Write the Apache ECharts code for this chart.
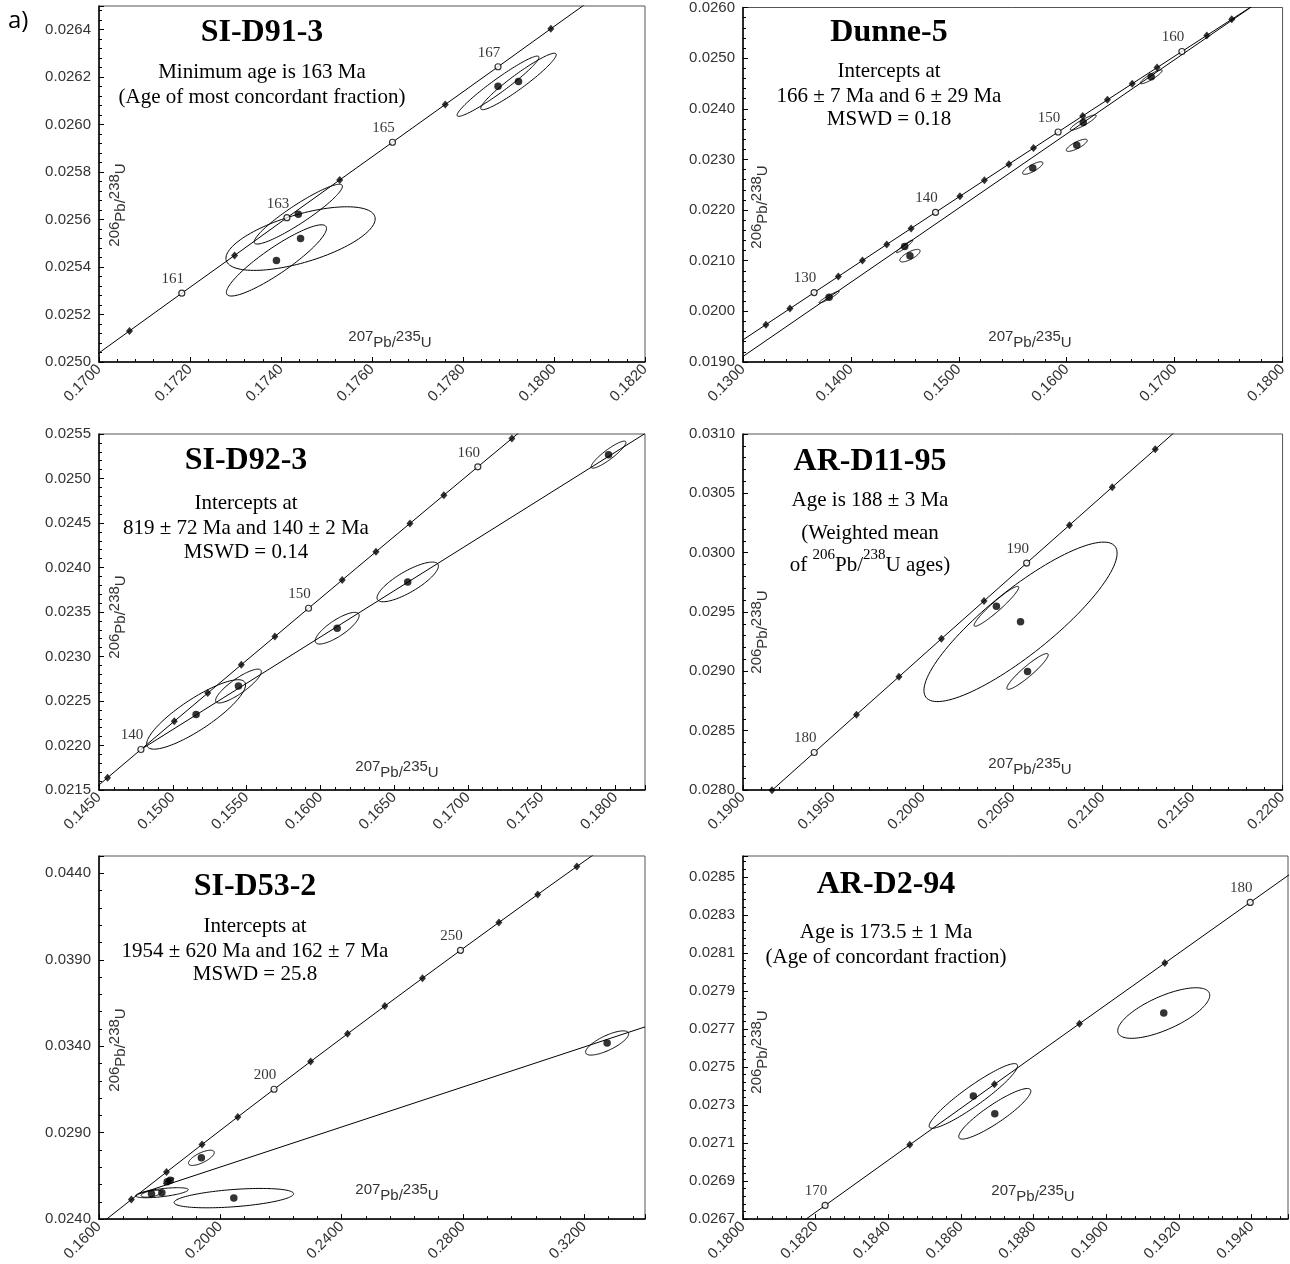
<!DOCTYPE html>
<html>
<head>
<meta charset="utf-8">
<script src="https://cdn.jsdelivr.net/npm/echarts@6/dist/echarts.min.js"></script>
<style>
  html, body { margin: 0; padding: 0; background: #fff; }
  #chart { width: 1290px; height: 1264px; }
</style>
</head>
<body>
<div id="chart"></div>
<script>
// Concordia reference points: [age (Ma), 207Pb/235U, 206Pb/238U]
const sid913Concordia = [
  [159, 0.16952, 0.024972], [160, 0.17067, 0.025131], [161, 0.17182, 0.025290],
  [162, 0.17298, 0.025449], [163, 0.17413, 0.025608], [164, 0.17529, 0.025767],
  [165, 0.17645, 0.025926], [166, 0.17761, 0.026085], [167, 0.17877, 0.026244],
  [168, 0.17993, 0.026404], [169, 0.18109, 0.026563]
];
const dunne5Concordia = [
  [124, 0.12989, 0.019422], [126, 0.13212, 0.019738], [128, 0.13435, 0.020054],
  [130, 0.13659, 0.020371], [132, 0.13883, 0.020688], [134, 0.14107, 0.021004],
  [136, 0.14332, 0.021321], [138, 0.14558, 0.021638], [140, 0.14784, 0.021955],
  [142, 0.15010, 0.022272], [144, 0.15237, 0.022589], [146, 0.15464, 0.022907],
  [148, 0.15692, 0.023224], [150, 0.15920, 0.023542], [152, 0.16148, 0.023859],
  [154, 0.16377, 0.024177], [156, 0.16607, 0.024495], [158, 0.16837, 0.024813],
  [160, 0.17067, 0.025131], [162, 0.17298, 0.025449], [164, 0.17529, 0.025767],
  [166, 0.17761, 0.026085]
];
const sid923Concordia = [
  [136, 0.14332, 0.021321], [138, 0.14558, 0.021638], [140, 0.14784, 0.021955],
  [142, 0.15010, 0.022272], [144, 0.15237, 0.022589], [146, 0.15464, 0.022907],
  [148, 0.15692, 0.023224], [150, 0.15920, 0.023542], [152, 0.16148, 0.023859],
  [154, 0.16377, 0.024177], [156, 0.16607, 0.024495], [158, 0.16837, 0.024813],
  [160, 0.17067, 0.025131], [162, 0.17298, 0.025449], [164, 0.17529, 0.025767]
];
const ard1195Concordia = [
  [176, 0.18926, 0.027678], [178, 0.19161, 0.027997], [180, 0.19396, 0.028316],
  [182, 0.19631, 0.028635], [184, 0.19867, 0.028954], [186, 0.20103, 0.029274],
  [188, 0.20340, 0.029593], [190, 0.20577, 0.029912], [192, 0.20815, 0.030232],
  [194, 0.21053, 0.030552], [196, 0.21292, 0.030871], [198, 0.21531, 0.031191]
];
const sid532Concordia = [
  [150, 0.15920, 0.023542], [160, 0.17067, 0.025131], [170, 0.18226, 0.026722],
  [180, 0.19396, 0.028316], [190, 0.20577, 0.029912], [200, 0.21771, 0.031511],
  [210, 0.22976, 0.033113], [220, 0.24193, 0.034716], [230, 0.25422, 0.036323],
  [240, 0.26664, 0.037932], [250, 0.27917, 0.039543], [260, 0.29183, 0.041157],
  [270, 0.30462, 0.042773], [280, 0.31753, 0.044392], [290, 0.33057, 0.046013]
];
const ard294Concordia = [
  [168, 0.17993, 0.026404], [170, 0.18226, 0.026722], [172, 0.18459, 0.027041],
  [174, 0.18692, 0.027359], [176, 0.18926, 0.027678], [178, 0.19161, 0.027997],
  [180, 0.19396, 0.028316], [182, 0.19631, 0.028635]
];

// Ages written next to the open concordia markers
const sid913Labelled = [161, 163, 165, 167];
const dunne5Labelled = [130, 140, 150, 160];
const sid923Labelled = [140, 150, 160];
const ard1195Labelled = [180, 190];
const sid532Labelled = [200, 250];
const ard294Labelled = [170, 180];

// Analysed fractions: [207Pb/235U, 206Pb/238U, half-width x, half-width y, error correlation]
const sid913Fractions = [
  [0.17438, 0.025623, 0.00097, 0.000126, 0.93],
  [0.17443, 0.025520, 0.00164, 0.000134, 0.62],
  [0.17390, 0.025428, 0.00110, 0.000150, 0.90],
  [0.17877, 0.026162, 0.00090, 0.000127, 0.96],
  [0.17922, 0.026182, 0.00083, 0.000119, 0.95]
];
const dunne5Fractions = [
  [0.13798, 0.020281, 0.00094, 0.000117, 0.95],
  [0.14498, 0.021282, 0.00075, 0.000124, 0.95],
  [0.14547, 0.021100, 0.00094, 0.000124, 0.75],
  [0.15685, 0.022830, 0.00094, 0.000124, 0.80],
  [0.16093, 0.023279, 0.00097, 0.000120, 0.80],
  [0.16153, 0.023728, 0.00120, 0.000150, 0.90],
  [0.16783, 0.024631, 0.00101, 0.000137, 0.90]
];
const sid923Fractions = [
  [0.15158, 0.022349, 0.00335, 0.000390, 0.85],
  [0.15445, 0.022668, 0.00155, 0.000190, 0.85],
  [0.16114, 0.023318, 0.00149, 0.000178, 0.80],
  [0.16592, 0.023838, 0.00208, 0.000223, 0.80],
  [0.17953, 0.025268, 0.00118, 0.000152, 0.90]
];
const ard1195Fractions = [
  [0.20543, 0.029417, 0.00537, 0.000672, 0.86],
  [0.20409, 0.029548, 0.00124, 0.000168, 0.95],
  [0.20582, 0.028999, 0.00115, 0.000151, 0.93]
];
const sid532Fractions = [
  [0.17729, 0.025469, 0.00340, 0.000200, 0.50],
  [0.18072, 0.025528, 0.00870, 0.000290, 0.60],
  [0.18250, 0.026155, 0.00120, 0.000140, 0.80],
  [0.18346, 0.026253, 0.00120, 0.000140, 0.80],
  [0.19375, 0.027546, 0.00425, 0.000440, 0.70],
  [0.20445, 0.025215, 0.01970, 0.000560, 0.45],
  [0.32751, 0.034187, 0.00710, 0.000700, 0.75]
];
const ard294Fractions = [
  [0.18634, 0.027298, 0.001216, 0.000170, 0.93],
  [0.18693, 0.027204, 0.000992, 0.000133, 0.90],
  [0.19158, 0.027734, 0.001266, 0.000133, 0.70]
];

// Discordia chords: two points on each regression line
const dunne5Discordia = [[0.13000, 0.019110], [0.17761, 0.026085]];
const sid923Discordia = [[0.14784, 0.021955], [0.18200, 0.025505]];
const sid532Discordia = [[0.17298, 0.025449], [0.34000, 0.035117]];

// Tick labels of the AR-D2-94 ratio axis
const ard294YLabels = ['0.0267', '0.0269', '0.0271', '0.0273', '0.0275',
                       '0.0277', '0.0279', '0.0281', '0.0283', '0.0285'];

const SERIF = '"Liberation Serif", "Times New Roman", serif';
const SANS = '"Liberation Sans", Arial, sans-serif';

const colL = { left: 99, width: 546 };
const colR = { left: 743, width: 545 };
const rowBox = [
  { top: 6, height: 356 },
  { top: 434, height: 356 },
  { top: 856, height: 371 }
];

const panels = [
  { grid: { ...colL, ...rowBox[0] }, x: [0.170, 0.182, 0.002], y: [0.0250, 0.0265, 0.0002],
    conc: sid913Concordia, lab: sid913Labelled, fr: sid913Fractions, disc: null },
  { grid: { ...colR, ...rowBox[0] }, x: [0.130, 0.180, 0.010], y: [0.0190, 0.0260, 0.0010],
    conc: dunne5Concordia, lab: dunne5Labelled, fr: dunne5Fractions, disc: dunne5Discordia },
  { grid: { ...colL, ...rowBox[1] }, x: [0.145, 0.182, 0.005], y: [0.0215, 0.0255, 0.0005],
    conc: sid923Concordia, lab: sid923Labelled, fr: sid923Fractions, disc: sid923Discordia },
  { grid: { ...colR, ...rowBox[1] }, x: [0.190, 0.220, 0.005], y: [0.0280, 0.0310, 0.0005],
    conc: ard1195Concordia, lab: ard1195Labelled, fr: ard1195Fractions, disc: null },
  { grid: { ...colL, ...rowBox[2] }, x: [0.160, 0.340, 0.040], y: [0.0240, 0.0450, 0.0050],
    conc: sid532Concordia, lab: sid532Labelled, fr: sid532Fractions, disc: sid532Discordia },
  { grid: { ...colR, ...rowBox[2] }, x: [0.180, 0.195, 0.002], y: [0.02665, 0.02856, 0.0002],
    conc: ard294Concordia, lab: ard294Labelled, fr: ard294Fractions, disc: null,
    yLabels: ard294YLabels }
];

const onTick = (v, min, step) => Math.abs((v - min) / step - Math.round((v - min) / step)) < 1e-6;

function axis(kind, range, i, labels) {
  const [min, max, step] = range;
  const base = {
    type: 'value', gridIndex: i, min, max, interval: step, scale: true,
    axisLine: { show: true, onZero: false, lineStyle: { color: '#000', width: 1.5 } },
    axisTick: { show: true, inside: true, length: 5, lineStyle: { color: '#000', width: 1 } },
    minorTick: { show: true, splitNumber: 5, length: 3, lineStyle: { color: '#000', width: 1 } },
    splitLine: { show: false },
    axisLabel: {
      fontFamily: SANS, fontSize: 15, color: '#333', margin: kind === 'x' ? 5 : 8,
      showMaxLabel: onTick(max, min, step),
      formatter: labels
        ? (v) => labels[Math.round((v - min) / step)] || ''
        : (v) => v.toFixed(4)
    }
  };
  if (kind === 'x') base.axisLabel.rotate = 45;
  return base;
}

function ellipse(params, api) {
  const cx = api.value(0), cy = api.value(1), sx = api.value(2), sy = api.value(3), r = api.value(4);
  const q = Math.sqrt(1 - r * r);
  const pts = [];
  const n = 120;
  for (let k = 0; k < n; k++) {
    const t = (k / n) * Math.PI * 2;
    pts.push(api.coord([cx + sx * Math.cos(t), cy + sy * (r * Math.cos(t) + q * Math.sin(t))]));
  }
  return { type: 'polygon', shape: { points: pts }, style: { fill: 'none', stroke: '#000', lineWidth: 1 } };
}

const grids = [], xAxes = [], yAxes = [], series = [];
panels.forEach((p, i) => {
  grids.push({ ...p.grid, show: true, borderColor: '#555', borderWidth: 1, backgroundColor: 'transparent' });
  xAxes.push(axis('x', p.x, i));
  yAxes.push(axis('y', p.y, i, p.yLabels));
  const ax = { xAxisIndex: i, yAxisIndex: i, silent: true, animation: false };

  series.push({ ...ax, type: 'line', data: p.conc.map(c => [c[1], c[2]]), symbol: 'none',
    lineStyle: { color: '#000', width: 1 }, clip: true, z: 2 });
  if (p.disc) {
    series.push({ ...ax, type: 'line', data: p.disc, symbol: 'none',
      lineStyle: { color: '#000', width: 1 }, clip: true, z: 2 });
  }
  series.push({ ...ax, type: 'custom', data: p.fr, renderItem: ellipse, clip: true, z: 3,
    encode: { x: 0, y: 1 } });

  const marks = p.conc.slice(1, -1);
  series.push({ ...ax, type: 'scatter', clip: false, z: 4, symbol: 'diamond', symbolSize: [7, 8],
    itemStyle: { color: '#000' },
    data: marks.filter(c => !p.lab.includes(c[0])).map(c => [c[1], c[2]]) });
  series.push({ ...ax, type: 'scatter', clip: false, z: 4, symbol: 'circle', symbolSize: 6,
    itemStyle: { color: '#fff', borderColor: '#000', borderWidth: 1.2 },
    label: { show: true, position: 'top', distance: 3, offset: [-9, 0],
      formatter: (d) => String(d.value[2]), fontFamily: SERIF, fontSize: 15, color: '#000' },
    data: marks.filter(c => p.lab.includes(c[0])).map(c => [c[1], c[2], c[0]]) });

  series.push({ ...ax, type: 'scatter', clip: true, z: 5, symbol: 'circle', symbolSize: 7.5,
    itemStyle: { color: '#000' }, data: p.fr.map(f => [f[0], f[1]]) });
});

// Text blocks
function title(x, y, text) {
  return { type: 'text', x, y, z: 10, style: { text, fontFamily: SERIF, fontSize: 32, fontWeight: 'bold',
    fill: '#000', align: 'center', verticalAlign: 'middle' } };
}
function note(x, y, text) {
  return { type: 'text', x, y, z: 10, style: { text, fontFamily: SERIF, fontSize: 21,
    fill: '#000', align: 'center', verticalAlign: 'middle' } };
}
const ratioRich = {
  n: { fontFamily: SANS, fontSize: 15, fill: '#333', verticalAlign: 'top' },
  l: { fontFamily: SANS, fontSize: 15, fill: '#333', padding: [6, 0, 0, 0] }
};
function xTitle(x, y) {
  return { type: 'text', x, y, z: 10, style: { text: '{n|207}{l|Pb/}{n|235}{l|U}', rich: ratioRich,
    align: 'center', verticalAlign: 'middle' } };
}
function yTitle(x, y) {
  return { type: 'text', x, y, z: 10, rotation: Math.PI / 2,
    style: { text: '{n|206}{l|Pb/}{n|238}{l|U}', rich: ratioRich, align: 'center', verticalAlign: 'middle' } };
}

const graphic = [
  { type: 'text', x: 8, y: 21, style: { text: 'a)', fontFamily: '"Open Sans", sans-serif', fontSize: 24,
    fill: '#000', align: 'left', verticalAlign: 'middle' } },

  title(262, 33, 'SI-D91-3'),
  note(262, 72, 'Minimum age is 163 Ma'),
  note(262, 97, '(Age of most concordant fraction)'),
  xTitle(390, 340), yTitle(118, 205),

  title(889, 33, 'Dunne-5'),
  note(889, 71, 'Intercepts at'),
  note(889, 96, '166 ± 7 Ma and 6 ± 29 Ma'),
  note(889, 119, 'MSWD = 0.18'),
  xTitle(1030, 340), yTitle(760, 207),

  title(246, 461, 'SI-D92-3'),
  note(246, 503, 'Intercepts at'),
  note(246, 528, '819 ± 72 Ma and 140 ± 2 Ma'),
  note(246, 552, 'MSWD = 0.14'),
  xTitle(397, 770), yTitle(118, 617),

  title(870, 462, 'AR-D11-95'),
  note(870, 500, 'Age is 188 ± 3 Ma'),
  note(870, 533, '(Weighted mean'),
  { type: 'text', x: 870, y: 562, z: 10, style: {
      text: '{t|of }{s|206}{t|Pb/}{s|238}{t|U ages)}',
      rich: {
        t: { fontFamily: SERIF, fontSize: 21, fill: '#000', padding: [7, 0, 0, 0] },
        s: { fontFamily: SERIF, fontSize: 15, fill: '#000', verticalAlign: 'top' }
      },
      align: 'center', verticalAlign: 'middle' } },
  xTitle(1030, 767), yTitle(760, 632),

  title(255, 887, 'SI-D53-2'),
  note(255, 926, 'Intercepts at'),
  note(255, 951, '1954 ± 620 Ma and 162 ± 7 Ma'),
  note(255, 974, 'MSWD = 25.8'),
  xTitle(397, 1193), yTitle(118, 1050),

  title(886, 885, 'AR-D2-94'),
  note(886, 932, 'Age is 173.5 ± 1 Ma'),
  note(886, 957, '(Age of concordant fraction)'),
  xTitle(1033, 1194), yTitle(760, 1052)
];

const chart = echarts.init(document.getElementById('chart'), null, { renderer: 'canvas' });
chart.setOption({
  animation: false,
  backgroundColor: '#fff',
  grid: grids,
  xAxis: xAxes,
  yAxis: yAxes,
  series,
  graphic
});
</script>
</body>
</html>
